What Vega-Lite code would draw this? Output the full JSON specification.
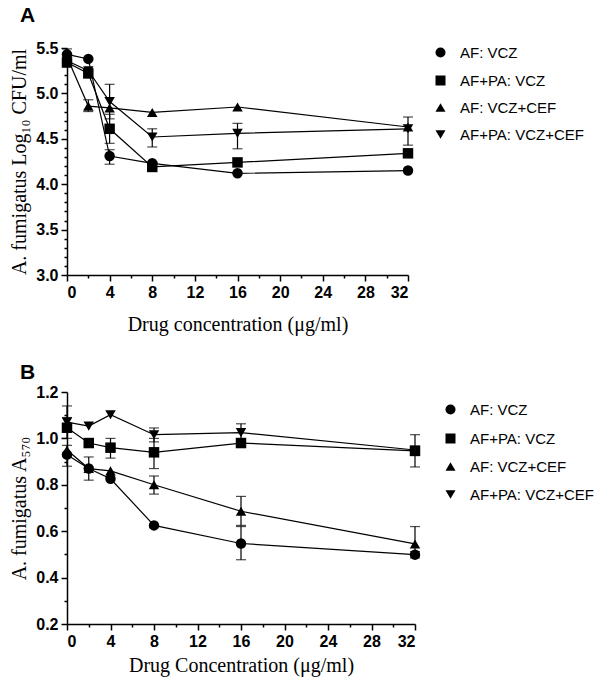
{
  "$schema": "https://vega.github.io/schema/vega-lite/v6.json",
  "padding": {"left": 9, "top": 5, "right": 5, "bottom": 5},
  "spacing": 28,
  "config": {
    "view": {"stroke": null},
    "axis": {
      "grid": false,
      "labelFont": "Liberation Sans",
      "labelFontSize": 16,
      "labelFontWeight": "bold",
      "labelColor": "black",
      "labelPadding": 3,
      "domainColor": "black",
      "domainWidth": 1.5,
      "tickColor": "black",
      "tickWidth": 1.5,
      "tickSize": 6,
      "titleFont": "Liberation Serif",
      "titleFontSize": 20,
      "titleFontWeight": "normal",
      "titleColor": "black"
    },
    "legend": {
      "labelFont": "Liberation Sans",
      "labelFontSize": 15,
      "labelColor": "black",
      "symbolSize": 100,
      "rowPadding": 11,
      "labelOffset": 12
    }
  },
  "resolve": {"scale": {"shape": "independent"}, "legend": {"shape": "independent"}},
  "vconcat": [
    {
      "title": {"text": "A", "anchor": "start", "frame": "group", "font": "Liberation Sans", "fontSize": 21, "fontWeight": "bold", "color": "black", "dx": -47, "offset": 14},
      "width": 341,
      "height": 227,
      "data": {"values": [
        {"group": "AF: VCZ", "conc": 0, "val": 5.43, "lo": 5.38, "hi": 5.49},
        {"group": "AF: VCZ", "conc": 2, "val": 5.38, "lo": null, "hi": null},
        {"group": "AF: VCZ", "conc": 4, "val": 4.31, "lo": 4.22, "hi": 4.38},
        {"group": "AF: VCZ", "conc": 8, "val": 4.23, "lo": null, "hi": null},
        {"group": "AF: VCZ", "conc": 16, "val": 4.12, "lo": null, "hi": null},
        {"group": "AF: VCZ", "conc": 32, "val": 4.15, "lo": null, "hi": null},
        {"group": "AF+PA: VCZ", "conc": 0, "val": 5.34, "lo": null, "hi": null},
        {"group": "AF+PA: VCZ", "conc": 2, "val": 5.22, "lo": null, "hi": null},
        {"group": "AF+PA: VCZ", "conc": 4, "val": 4.61, "lo": 4.45, "hi": 4.77},
        {"group": "AF+PA: VCZ", "conc": 8, "val": 4.19, "lo": null, "hi": null},
        {"group": "AF+PA: VCZ", "conc": 16, "val": 4.24, "lo": null, "hi": null},
        {"group": "AF+PA: VCZ", "conc": 32, "val": 4.34, "lo": null, "hi": null},
        {"group": "AF: VCZ+CEF", "conc": 0, "val": 5.4, "lo": null, "hi": null},
        {"group": "AF: VCZ+CEF", "conc": 2, "val": 4.86, "lo": 4.8, "hi": 4.93},
        {"group": "AF: VCZ+CEF", "conc": 4, "val": 4.84, "lo": null, "hi": null},
        {"group": "AF: VCZ+CEF", "conc": 8, "val": 4.79, "lo": null, "hi": null},
        {"group": "AF: VCZ+CEF", "conc": 16, "val": 4.85, "lo": null, "hi": null},
        {"group": "AF: VCZ+CEF", "conc": 32, "val": 4.63, "lo": null, "hi": null},
        {"group": "AF+PA: VCZ+CEF", "conc": 0, "val": 5.36, "lo": null, "hi": null},
        {"group": "AF+PA: VCZ+CEF", "conc": 2, "val": 5.25, "lo": null, "hi": null},
        {"group": "AF+PA: VCZ+CEF", "conc": 4, "val": 4.91, "lo": 4.72, "hi": 5.1},
        {"group": "AF+PA: VCZ+CEF", "conc": 8, "val": 4.52, "lo": 4.41, "hi": 4.61},
        {"group": "AF+PA: VCZ+CEF", "conc": 16, "val": 4.56, "lo": 4.39, "hi": 4.67},
        {"group": "AF+PA: VCZ+CEF", "conc": 32, "val": 4.61, "lo": 4.43, "hi": 4.74}
      ]},
      "resolve": {"axis": {"x": "independent", "y": "independent"}},
      "layer": [
        {
          "encoding": {
            "x": {"field": "conc", "type": "quantitative", "scale": {"domain": [0, 32], "nice": false, "zero": false},
                  "axis": {"values": [0, 4, 8, 12, 16, 20, 24, 28, 32], "title": "Drug concentration (μg/ml)", "titlePadding": 14}},
            "y": {"field": "val", "type": "quantitative", "scale": {"domain": [3, 5.5], "nice": false, "zero": false},
                  "axis": {"values": [3, 3.5, 4, 4.5, 5, 5.5], "format": ".1f", "title": "A. fumigatus Log₁₀ CFU/ml", "titlePadding": 6}}
          },
          "layer": [
            {"mark": {"type": "line", "color": "black", "strokeWidth": 1.2}, "encoding": {"detail": {"field": "group"}}},
            {
              "transform": [{"filter": "datum.lo != null"}],
              "mark": {"type": "errorbar", "ticks": {"size": 10}, "color": "black", "thickness": 1.2},
              "encoding": {"y": {"field": "lo", "type": "quantitative", "scale": {"domain": [3, 5.5], "nice": false, "zero": false},
                  "axis": {"values": [3, 3.5, 4, 4.5, 5, 5.5], "format": ".1f", "title": "A. fumigatus Log₁₀ CFU/ml", "titlePadding": 6}}, "y2": {"field": "hi"}}
            },
            {
              "mark": {"type": "point", "filled": true, "color": "black", "opacity": 1, "size": 110},
              "encoding": {"shape": {"field": "group", "type": "nominal",
                "scale": {"domain": ["AF: VCZ", "AF+PA: VCZ", "AF: VCZ+CEF", "AF+PA: VCZ+CEF"], "range": ["circle", "square", "triangle-up", "triangle-down"]},
                "legend": {"title": null, "orient": "none", "legendX": 366, "legendY": -3}}}
            }
          ]
        },
        {
          "mark": {"type": "point", "opacity": 0},
          "encoding": {
            "x": {"field": "conc", "type": "quantitative", "axis": {"orient": "bottom", "values": [2, 6, 10, 14, 18, 22, 26, 30], "labels": false, "domain": false, "tickSize": 3, "title": null}},
            "y": {"field": "val", "type": "quantitative", "axis": {"orient": "left", "values": [3.1, 3.2, 3.3, 3.4, 3.6, 3.7, 3.8, 3.9, 4.1, 4.2, 4.3, 4.4, 4.6, 4.7, 4.8, 4.9, 5.1, 5.2, 5.3, 5.4], "labels": false, "domain": false, "tickSize": 3, "title": null}}
          }
        }
      ]
    },
    {
      "title": {"text": "B", "anchor": "start", "frame": "group", "font": "Liberation Sans", "fontSize": 21, "fontWeight": "bold", "color": "black", "dx": -47, "offset": 1},
      "width": 348,
      "height": 232,
      "data": {"values": [
        {"group": "AF: VCZ", "conc": 0, "val": 0.93, "lo": 0.88, "hi": 0.97},
        {"group": "AF: VCZ", "conc": 2, "val": 0.87, "lo": 0.82, "hi": 0.92},
        {"group": "AF: VCZ", "conc": 4, "val": 0.826, "lo": null, "hi": null},
        {"group": "AF: VCZ", "conc": 8, "val": 0.625, "lo": null, "hi": null},
        {"group": "AF: VCZ", "conc": 16, "val": 0.547, "lo": 0.477, "hi": 0.62},
        {"group": "AF: VCZ", "conc": 32, "val": 0.499, "lo": 0.485, "hi": 0.512},
        {"group": "AF+PA: VCZ", "conc": 0, "val": 1.046, "lo": 1.0, "hi": 1.09},
        {"group": "AF+PA: VCZ", "conc": 2, "val": 0.98, "lo": null, "hi": null},
        {"group": "AF+PA: VCZ", "conc": 4, "val": 0.96, "lo": 0.915, "hi": 1.0},
        {"group": "AF+PA: VCZ", "conc": 8, "val": 0.94, "lo": 0.87, "hi": 1.0},
        {"group": "AF+PA: VCZ", "conc": 16, "val": 0.98, "lo": null, "hi": null},
        {"group": "AF+PA: VCZ", "conc": 32, "val": 0.946, "lo": 0.877, "hi": 1.016},
        {"group": "AF: VCZ+CEF", "conc": 0, "val": 0.95, "lo": null, "hi": null},
        {"group": "AF: VCZ+CEF", "conc": 2, "val": 0.87, "lo": null, "hi": null},
        {"group": "AF: VCZ+CEF", "conc": 4, "val": 0.86, "lo": null, "hi": null},
        {"group": "AF: VCZ+CEF", "conc": 8, "val": 0.8, "lo": 0.76, "hi": 0.838},
        {"group": "AF: VCZ+CEF", "conc": 16, "val": 0.686, "lo": 0.625, "hi": 0.75},
        {"group": "AF: VCZ+CEF", "conc": 32, "val": 0.545, "lo": 0.5, "hi": 0.62},
        {"group": "AF+PA: VCZ+CEF", "conc": 0, "val": 1.07, "lo": 1.03, "hi": 1.14},
        {"group": "AF+PA: VCZ+CEF", "conc": 2, "val": 1.053, "lo": null, "hi": null},
        {"group": "AF+PA: VCZ+CEF", "conc": 4, "val": 1.102, "lo": null, "hi": null},
        {"group": "AF+PA: VCZ+CEF", "conc": 8, "val": 1.016, "lo": 0.985, "hi": 1.045},
        {"group": "AF+PA: VCZ+CEF", "conc": 16, "val": 1.025, "lo": 0.98, "hi": 1.063},
        {"group": "AF+PA: VCZ+CEF", "conc": 32, "val": 0.95, "lo": null, "hi": null}
      ]},
      "resolve": {"axis": {"x": "independent", "y": "independent"}},
      "layer": [
        {
          "encoding": {
            "x": {"field": "conc", "type": "quantitative", "scale": {"domain": [0, 32], "nice": false, "zero": false},
                  "axis": {"values": [0, 4, 8, 12, 16, 20, 24, 28, 32], "title": "Drug Concentration (μg/ml)", "titlePadding": 6}},
            "y": {"field": "val", "type": "quantitative", "scale": {"domain": [0.2, 1.2], "nice": false, "zero": false},
                  "axis": {"values": [0.2, 0.4, 0.6, 0.8, 1.0, 1.2], "format": ".1f", "title": "A. fumigatus A₅₇₀", "titlePadding": 6}}
          },
          "layer": [
            {"mark": {"type": "line", "color": "black", "strokeWidth": 1.2}, "encoding": {"detail": {"field": "group"}}},
            {
              "transform": [{"filter": "datum.lo != null"}],
              "mark": {"type": "errorbar", "ticks": {"size": 10}, "color": "black", "thickness": 1.2},
              "encoding": {"y": {"field": "lo", "type": "quantitative", "scale": {"domain": [0.2, 1.2], "nice": false, "zero": false},
                  "axis": {"values": [0.2, 0.4, 0.6, 0.8, 1.0, 1.2], "format": ".1f", "title": "A. fumigatus A₅₇₀", "titlePadding": 6}}, "y2": {"field": "hi"}}
            },
            {
              "mark": {"type": "point", "filled": true, "color": "black", "opacity": 1, "size": 110},
              "encoding": {"shape": {"field": "group", "type": "nominal",
                "scale": {"domain": ["AF: VCZ", "AF+PA: VCZ", "AF: VCZ+CEF", "AF+PA: VCZ+CEF"], "range": ["circle", "square", "triangle-up", "triangle-down"]},
                "legend": {"title": null, "orient": "none", "legendX": 376, "legendY": 10, "rowPadding": 12}}}
            }
          ]
        },
        {
          "mark": {"type": "point", "opacity": 0},
          "encoding": {
            "x": {"field": "conc", "type": "quantitative", "axis": {"orient": "bottom", "values": [2, 6, 10, 14, 18, 22, 26, 30], "labels": false, "domain": false, "tickSize": 3, "title": null}},
            "y": {"field": "val", "type": "quantitative", "axis": {"orient": "left", "values": [0.3, 0.5, 0.7, 0.9, 1.1], "labels": false, "domain": false, "tickSize": 3, "title": null}}
          }
        }
      ]
    }
  ]
}
